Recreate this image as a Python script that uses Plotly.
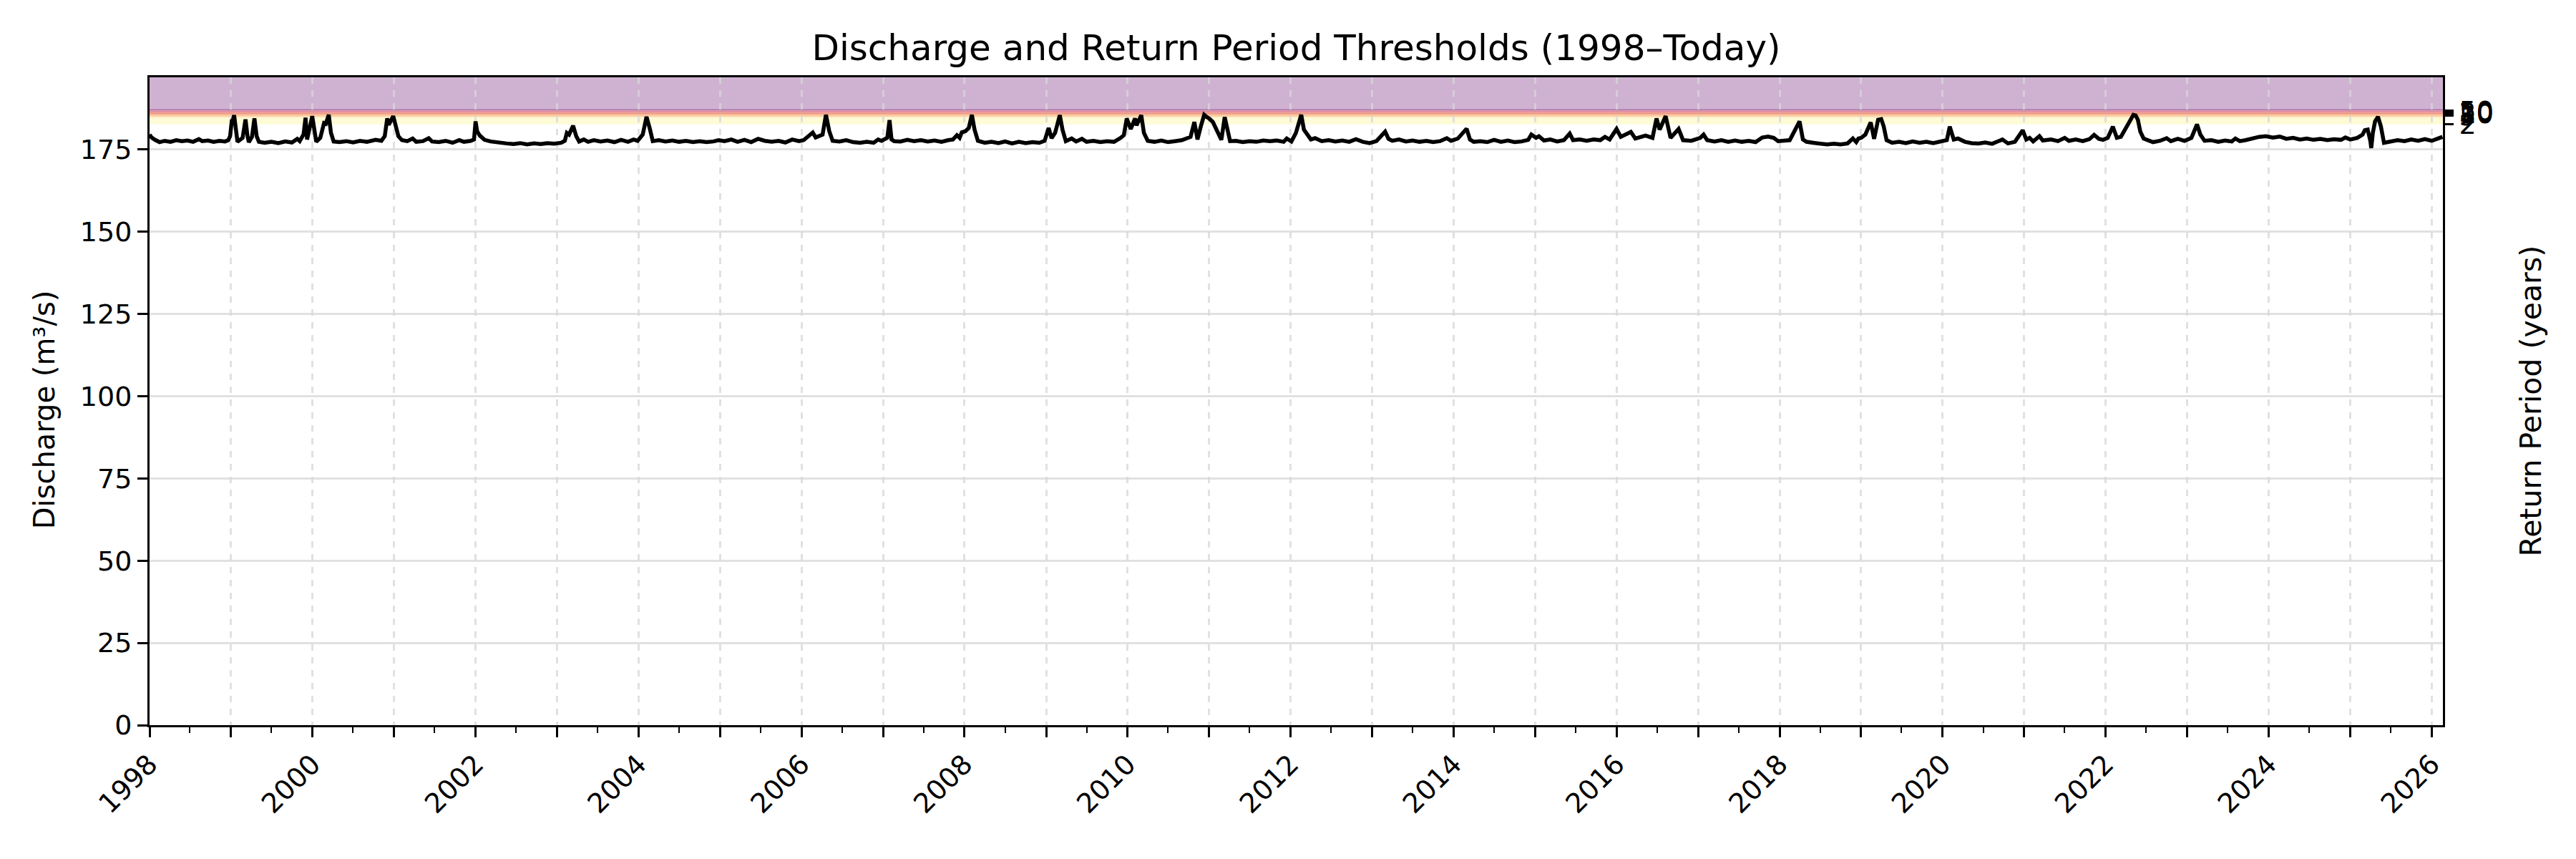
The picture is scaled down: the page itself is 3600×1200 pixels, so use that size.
import plotly.graph_objects as go

# ---------------- data ----------------
dates = [
"1998-01-01","1998-01-10","1998-01-25","1998-02-15","1998-03-10","1998-04-05","1998-05-01","1998-05-25",
"1998-06-20","1998-07-15","1998-08-10","1998-08-25","1998-09-20","1998-10-15","1998-11-10","1998-12-05",
"1998-12-20","1998-12-28","1999-01-05","1999-01-09","1999-01-15","1999-01-22","1999-01-30","1999-02-22",
"1999-03-07","1999-03-16","1999-03-22","1999-04-05","1999-04-16","1999-04-26","1999-05-06","1999-06-01",
"1999-07-01","1999-08-01","1999-09-01","1999-10-01","1999-10-25","1999-11-05","1999-11-22","1999-12-01",
"1999-12-08","1999-12-31","2000-01-08","2000-01-18","2000-02-05","2000-02-22","2000-03-01","2000-03-14",
"2000-03-24","2000-04-05","2000-05-01","2000-06-01","2000-07-01","2000-08-01","2000-09-01","2000-10-10",
"2000-11-05","2000-11-20","2000-12-01","2000-12-08","2000-12-28","2001-01-08","2001-01-20","2001-02-05",
"2001-03-01","2001-03-25","2001-04-10","2001-05-10","2001-06-05","2001-06-20","2001-07-20","2001-08-20",
"2001-09-20","2001-10-20","2001-11-10","2001-12-10","2001-12-25","2002-01-01","2002-01-08","2002-01-20",
"2002-02-10","2002-03-10","2002-04-15","2002-05-20","2002-06-20","2002-07-20","2002-08-20","2002-09-20",
"2002-10-20","2002-11-20","2002-12-20","2003-01-20","2003-02-05","2003-02-14","2003-02-24","2003-03-14",
"2003-03-28","2003-04-10","2003-05-01","2003-05-20","2003-06-15","2003-07-15","2003-08-15","2003-09-15",
"2003-10-15","2003-11-15","2003-12-10","2003-12-28","2004-01-20","2004-02-06","2004-02-20","2004-03-05",
"2004-04-01","2004-05-01","2004-06-01","2004-07-01","2004-08-01","2004-09-01","2004-10-01","2004-11-01",
"2004-12-01","2004-12-25","2005-01-20","2005-02-20","2005-03-20","2005-04-20","2005-05-20","2005-06-20",
"2005-07-20","2005-08-20","2005-09-20","2005-10-20","2005-11-20","2005-12-20","2006-01-10","2006-02-20",
"2006-03-05","2006-04-05","2006-04-20","2006-05-05","2006-05-20","2006-06-20","2006-07-20","2006-08-20",
"2006-09-20","2006-10-20","2006-11-20","2006-12-10","2006-12-25","2007-01-20","2007-01-30","2007-02-08",
"2007-02-20","2007-03-20","2007-04-20","2007-05-20","2007-06-20","2007-07-20","2007-08-20","2007-09-20",
"2007-10-20","2007-11-10","2007-11-28","2007-12-10","2007-12-20","2008-01-05","2008-01-20","2008-02-03",
"2008-02-15","2008-03-01","2008-04-01","2008-05-01","2008-06-01","2008-07-01","2008-08-01","2008-09-01",
"2008-10-01","2008-11-01","2008-12-01","2008-12-25","2009-01-12","2009-01-25","2009-02-10","2009-03-03",
"2009-03-15","2009-03-30","2009-04-25","2009-05-15","2009-06-10","2009-07-01","2009-08-01","2009-09-01",
"2009-10-01","2009-11-01","2009-12-01","2009-12-15","2009-12-28","2010-01-15","2010-02-03","2010-02-10",
"2010-03-03","2010-03-15","2010-04-01","2010-05-01","2010-06-01","2010-07-01","2010-08-01","2010-09-01",
"2010-09-25","2010-10-10","2010-10-27","2010-11-10","2010-11-25","2010-12-10","2010-12-22","2011-01-01",
"2011-01-18","2011-02-05","2011-02-25","2011-03-12","2011-04-05","2011-05-01","2011-06-01","2011-07-01",
"2011-08-01","2011-09-01","2011-10-01","2011-11-01","2011-12-01","2011-12-15","2012-01-05","2012-01-25",
"2012-02-18","2012-03-01","2012-03-15","2012-04-01","2012-04-20","2012-05-20","2012-06-20","2012-07-20",
"2012-08-20","2012-09-20","2012-10-20","2012-11-20","2012-12-20","2013-01-20","2013-02-28","2013-03-15",
"2013-04-01","2013-05-01","2013-06-01","2013-07-01","2013-08-01","2013-09-01","2013-10-01","2013-11-01",
"2013-12-01","2013-12-20","2014-01-20","2014-02-28","2014-03-15","2014-04-01","2014-05-01","2014-06-01",
"2014-07-01","2014-08-01","2014-09-01","2014-10-01","2014-11-01","2014-12-01","2014-12-15","2015-01-05",
"2015-01-18","2015-02-10","2015-03-10","2015-04-10","2015-05-10","2015-06-05","2015-06-20","2015-07-20",
"2015-08-20","2015-09-20","2015-10-20","2015-11-10","2015-12-01","2016-01-01","2016-01-20","2016-03-05",
"2016-03-25","2016-04-20","2016-05-10","2016-06-10","2016-06-28","2016-07-12","2016-08-08","2016-08-30",
"2016-10-05","2016-10-25","2016-12-01","2017-01-10","2017-01-25","2017-02-10","2017-03-15","2017-04-15",
"2017-05-15","2017-06-15","2017-07-15","2017-08-15","2017-09-15","2017-10-15","2017-11-10","2017-12-05",
"2017-12-25","2018-02-15","2018-03-01","2018-03-31","2018-04-15","2018-05-01","2018-06-01","2018-07-01",
"2018-08-01","2018-09-01","2018-10-01","2018-11-01","2018-11-25","2018-12-10","2018-12-20","2019-01-01",
"2019-01-20","2019-02-13","2019-02-28","2019-03-18","2019-04-01","2019-04-12","2019-04-25","2019-05-20",
"2019-06-20","2019-07-20","2019-08-20","2019-09-20","2019-10-20","2019-11-20","2019-12-20","2020-01-20",
"2020-02-02","2020-02-20","2020-03-10","2020-04-10","2020-05-10","2020-06-10","2020-07-10","2020-08-10",
"2020-09-25","2020-10-20","2020-11-20","2020-12-25","2021-01-10","2021-01-25","2021-02-10","2021-03-10",
"2021-03-25","2021-05-01","2021-06-01","2021-07-01","2021-07-20","2021-08-20","2021-09-20","2021-10-20",
"2021-11-10","2021-12-01","2021-12-20","2022-01-10","2022-02-02","2022-02-20","2022-03-10","2022-04-20",
"2022-05-05","2022-05-15","2022-05-25","2022-06-05","2022-06-20","2022-08-01","2022-09-01","2022-10-01",
"2022-10-20","2022-11-20","2022-12-20","2023-01-20","2023-02-14","2023-03-01","2023-03-20","2023-04-20",
"2023-05-20","2023-06-20","2023-07-20","2023-08-05","2023-08-25","2023-09-20","2023-10-20","2023-11-20",
"2023-12-20","2024-01-20","2024-02-20","2024-03-20","2024-04-20","2024-05-20","2024-06-20","2024-07-20",
"2024-08-20","2024-09-20","2024-10-20","2024-11-20","2024-12-10","2025-01-01","2025-02-01","2025-02-25",
"2025-03-07","2025-03-20","2025-04-01","2025-04-05","2025-04-12","2025-04-22","2025-05-05","2025-05-18",
"2025-06-01","2025-07-01","2025-08-01","2025-09-01","2025-10-01","2025-11-01","2025-12-01","2026-01-01",
"2026-01-25","2026-02-18",
]
discharge = [
179.5,178.6,177.9,177.2,177.6,177.3,177.8,177.5,
177.7,177.3,178.1,177.5,177.7,177.3,177.6,177.4,
177.8,179.0,184.0,183.8,185.4,181.5,177.3,178.5,
184.1,179.0,177.2,178.8,184.4,179.0,177.3,177.0,
177.3,176.9,177.4,177.1,178.2,177.5,179.5,184.6,
178.0,185.1,181.0,177.3,178.5,183.0,182.8,185.5,
180.0,177.4,177.2,177.5,177.1,177.6,177.3,177.9,
177.6,179.0,184.4,182.5,185.1,181.5,179.0,177.8,
177.5,178.3,177.3,177.5,178.4,177.4,177.2,177.6,
177.0,177.8,177.3,177.6,178.0,183.5,180.5,179.2,
177.9,177.4,177.0,176.8,176.6,176.9,176.5,176.8,
176.6,176.9,176.7,177.0,177.6,180.0,179.5,182.2,
179.0,177.4,178.0,177.3,177.8,177.4,177.7,177.2,
177.9,177.3,178.0,177.6,179.5,184.9,181.5,177.5,
177.8,177.4,177.7,177.3,177.6,177.2,177.5,177.2,
177.4,177.8,177.5,178.0,177.3,177.9,177.2,178.2,
177.6,177.3,177.6,177.1,178.0,177.5,177.8,180.1,
178.6,179.5,185.5,180.5,177.6,177.4,177.8,177.2,
177.0,177.3,177.0,178.0,177.6,178.5,183.9,178.0,
177.5,177.4,177.9,177.5,177.8,177.4,177.7,177.3,
177.8,178.0,179.3,178.5,180.2,180.5,181.5,185.5,
181.0,177.6,177.0,177.3,176.9,177.4,176.8,177.3,
176.9,177.2,177.0,177.6,181.5,178.4,180.0,185.4,
181.0,177.5,178.3,177.4,178.2,177.3,177.6,177.2,
177.5,177.3,178.5,179.3,184.4,181.2,184.4,182.3,
185.4,180.0,177.6,177.3,177.7,177.2,177.5,177.8,
178.4,178.8,183.3,178.0,182.0,185.5,184.8,184.4,
183.3,180.4,177.9,184.8,177.5,177.6,177.2,177.5,
177.3,177.7,177.5,177.7,177.3,178.3,177.4,180.0,
185.5,181.0,179.5,178.0,178.4,177.5,177.8,177.4,
177.7,177.3,178.1,177.3,176.9,177.5,180.4,178.2,
177.6,178.0,177.4,177.7,177.3,177.6,177.2,177.5,
178.4,177.6,178.3,181.3,178.0,177.3,177.5,177.2,
177.9,177.3,177.7,177.2,177.4,177.9,179.5,178.5,
179.0,177.7,178.0,177.4,177.8,179.8,177.8,178.0,
177.6,178.0,177.8,178.8,178.0,181.2,178.8,180.3,
178.3,178.8,179.2,178.5,184.4,181.0,185.1,178.5,
181.2,177.8,177.6,178.5,179.5,177.8,177.4,177.8,
177.3,177.7,177.3,177.6,177.2,178.6,178.9,178.5,
177.5,177.8,179.7,183.5,178.0,177.3,177.0,176.8,
176.5,176.7,176.5,176.8,178.3,177.2,178.3,178.5,
179.5,183.2,178.2,184.0,184.2,182.0,177.8,177.0,
177.3,176.9,177.4,177.0,177.3,176.9,177.2,177.8,
181.9,178.0,178.3,177.3,176.9,176.8,177.1,176.7,
178.0,176.8,177.3,180.8,178.0,178.5,177.4,179.0,
177.7,178.0,177.5,178.5,177.6,178.0,177.5,178.1,
179.4,178.2,177.9,178.5,181.9,178.5,178.8,184.1,
185.5,185.3,184.0,180.4,178.3,177.2,177.6,178.4,
177.5,178.2,177.6,178.5,182.6,179.5,177.6,177.8,
177.3,177.7,177.4,178.3,177.5,177.8,178.3,178.8,
179.0,178.6,178.9,178.2,178.5,178.0,178.3,177.9,
178.2,177.8,178.1,177.9,178.6,178.0,178.5,179.5,
180.8,181.0,177.5,175.4,180.0,183.5,184.9,182.0,
177.0,177.3,177.8,177.5,178.0,177.6,178.1,177.6,
178.3,178.8,
]

# return-period thresholds (right axis)
rp_labels = ["2", "5", "10", "20", "50"]
rp_values = [182.6, 185.27, 185.77, 186.35, 186.85]

# shaded bands (lower edge, upper edge, colour)
band_lower = [182.6, 184.77, 185.27, 185.77, 186.35, 186.85, 187.44]
band_upper = [184.77, 185.27, 185.77, 186.35, 186.85, 187.44, 196.9]
band_colors = ["#fefbd7", "#fdd9a8", "#f8b68c", "#ee9688", "#db8598", "#b682b4", "#cfb2d1"]

y_range = [0, 196.9]
x_range = ["1998-01-01", "2026-02-20"]
y_ticks = [0, 25, 50, 75, 100, 125, 150, 175]
x_major = [f"{y}-01-01" for y in range(1998, 2027)]
x_major_text = [str(y) if (y - 1998) % 2 == 0 else "" for y in range(1998, 2027)]

# ---------------- figure ----------------
FONT = "DejaVu Sans"
W, H = 3584, 1184          # page body keeps an 8px margin
L, T, R, B = 201, 100, 178, 179
PW = W - L - R

fig = go.Figure()

fig.add_trace(go.Scatter(
    x=dates, y=discharge, mode="lines",
    line=dict(color="black", width=5.5),
    showlegend=False, hoverinfo="skip",
))
# invisible trace to activate right axis
fig.add_trace(go.Scatter(x=[dates[0]], y=[rp_values[0]], yaxis="y2",
                         mode="markers", marker=dict(opacity=0), showlegend=False,
                         hoverinfo="skip"))

shapes = []
for lo, hi, c in zip(band_lower, band_upper, band_colors):
    shapes.append(dict(type="rect", xref="paper", yref="y", x0=0, x1=1, y0=lo, y1=hi,
                       fillcolor=c, line=dict(width=0), layer="below"))

fig.update_layout(
    width=W, height=H,
    margin=dict(l=L, r=R, t=T, b=B),
    paper_bgcolor="white", plot_bgcolor="white",
    font=dict(family=FONT, size=38, color="black"),
    title=dict(text="Discharge and Return Period Thresholds (1998–Today)",
               x=(L + PW / 2) / W, xanchor="center",
               y=1 - 58 / H, yanchor="middle",
               font=dict(family=FONT, size=50, color="black")),
    shapes=shapes,
    xaxis=dict(
        type="date", range=x_range,
        tickmode="array", tickvals=x_major, ticktext=x_major_text,
        tickangle=-45, ticks="outside", ticklen=14, tickwidth=3, tickcolor="black",
        showline=True, linecolor="black", linewidth=3, mirror=True,
        showgrid=True, gridcolor="rgba(215,215,215,0.75)", gridwidth=2.5, griddash="dash",
        zeroline=False,
        minor=dict(dtick="M6", tick0="1998-01-01", ticks="outside", ticklen=8,
                   tickwidth=2, tickcolor="black", showgrid=False),
        tickfont=dict(family=FONT, size=38),
    ),
    yaxis=dict(
        range=y_range, tickvals=y_ticks, ticks="outside", ticklen=14, tickwidth=3,
        tickcolor="black", showline=True, linecolor="black", linewidth=3, mirror=True,
        showgrid=True, gridcolor="rgba(215,215,215,0.75)", gridwidth=2.5,
        zeroline=False, tickfont=dict(family=FONT, size=38),
    ),
    yaxis2=dict(
        overlaying="y", side="right", range=y_range,
        tickmode="array", tickvals=rp_values, ticktext=rp_labels,
        ticks="outside", ticklen=14, tickwidth=3, tickcolor="black",
        showgrid=False, zeroline=False, showline=False,
        tickfont=dict(family=FONT, size=38),
    ),
    annotations=[
        dict(text="Discharge (m³/s)", xref="paper", yref="paper",
             x=(62 - 8 - L) / PW, y=0.487, xanchor="center", yanchor="middle",
             textangle=-90, showarrow=False, font=dict(family=FONT, size=40)),
        dict(text="Return Period (years)", xref="paper", yref="paper",
             x=(3536 - 8 - L) / PW, y=0.5, xanchor="center", yanchor="middle",
             textangle=-90, showarrow=False, font=dict(family=FONT, size=41)),
    ],
)

fig.write_html("out.html")
